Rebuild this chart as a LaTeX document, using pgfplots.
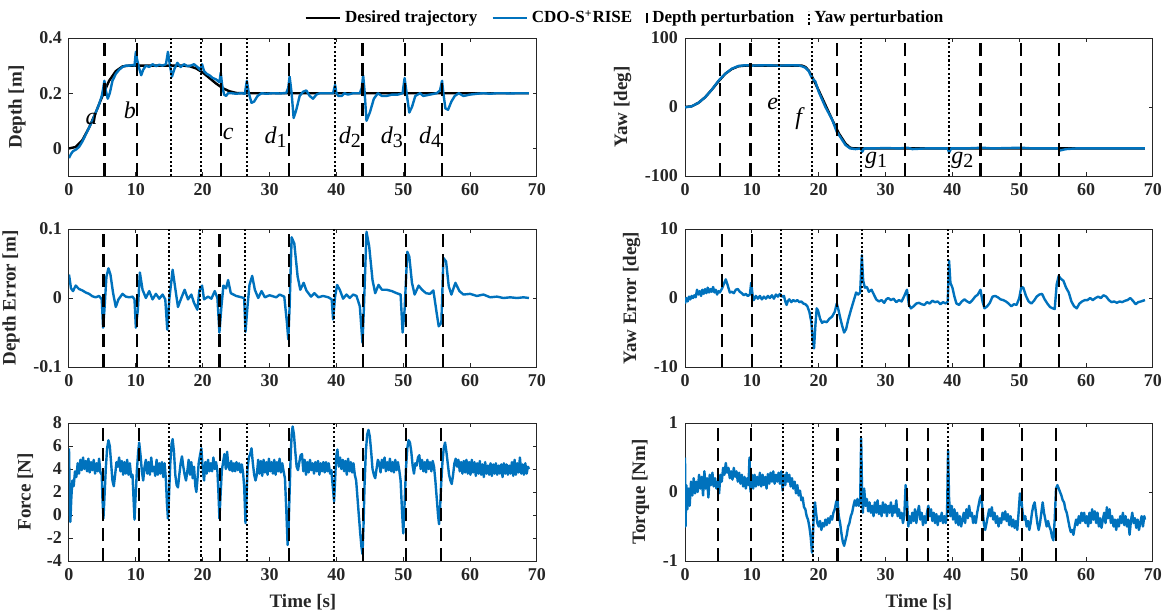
\documentclass[border=0pt]{standalone}
\usepackage{fontspec}
\setmainfont{Liberation Serif}
\usepackage{pgfplots}
\pgfplotsset{compat=1.18}
\definecolor{mblue}{RGB}{0,114,189}
\definecolor{axgray}{RGB}{38,38,38}

\pgfplotsset{
  panel/.style={
    scale only axis, width=234pt, height=69pt,
    xmin=0, xmax=70, xtick={0,10,...,70},
    scaled y ticks=false,
    axis line style={draw=axgray, line width=0.5pt},
    tick style={draw=axgray, line width=0.5pt},
    major tick length=1.8pt,
    tick align=inside, xtick pos=both, ytick pos=both,
    xticklabel pos=bottom, yticklabel pos=left,
    /pgf/number format/assume math mode=true,
    ticklabel style={font=\fontsize{9}{10}\selectfont\bfseries, text=axgray},
    label style={font=\fontsize{9.5}{11}\selectfont\bfseries, text=axgray},
  },
}
\tikzset{
  blu/.style={color=mblue, line width=1.2pt, line join=round},
  des/.style={black, line width=1.2pt},
  dep/.style={black, line width=1.1pt, dash pattern=on 6.5pt off 3.5pt},
  yawp/.style={black, line width=1pt, dash pattern=on 1.1pt off 1.1pt},
  lab/.style={font=\fontsize{12}{12}\selectfont\itshape, text=black},
}
\newcommand{\sub}[1]{\raisebox{-0.4ex}{\fontsize{10}{10}\selectfont\upshape #1}}

\begin{document}
\begin{tikzpicture}
\useasboundingbox (0,0) rectangle (582pt,-308pt);

% ---- depth
\begin{axis}[panel, at={(34.5pt,-19pt)}, anchor=north west,
  ymin=-0.1, ymax=0.4, ytick={0,0.2,0.4}, ylabel={Depth [m]},
  legend style={at={(1.19,1.145)}, anchor=center, draw=none, fill=none,
    font=\fontsize{8.5}{9}\selectfont\bfseries, inner sep=0pt,
    /tikz/every even column/.append style={column sep=5pt}},
  legend columns=4, legend cell align=left]
\addplot[des] coordinates {
(0,0) (1,0.005) (2,0.03) (3,0.075) (4,0.13) (5,0.19) (6,0.245) (7,0.28) (8,0.297) (9,0.3)
(17,0.3) (18,0.298) (19,0.29) (20,0.275) (21,0.255) (22,0.235) (23,0.218) (24,0.207)
(25,0.201) (26,0.2) (68.8,0.2)};
\addplot[blu] coordinates {
(0,-0.035) (0.3,-0.02) (0.6,-0.01) (1,-0.005) (1.5,0.005) (2,0.025) (2.5,0.05) (3,0.075)
(3.5,0.1) (4,0.13) (4.5,0.16) (4.9,0.19) (5.1,0.215) (5.3,0.245) (5.5,0.21) (5.8,0.18)
(6.1,0.2) (6.5,0.245) (7,0.27) (7.5,0.285) (8,0.295) (8.5,0.3) (9,0.3) (9.5,0.302)
(9.8,0.3) (10,0.35) (10.2,0.32) (10.5,0.29) (10.8,0.265) (11.1,0.285) (11.5,0.3)
(12,0.295) (12.5,0.305) (13,0.298) (13.5,0.303) (14,0.3) (14.5,0.305) (14.8,0.35)
(15.1,0.3) (15.4,0.26) (15.8,0.29) (16.2,0.31) (16.7,0.295) (17.2,0.305) (17.7,0.298)
(18.2,0.3) (18.7,0.305) (19.2,0.295) (19.6,0.285) (19.9,0.305) (20.2,0.28) (20.6,0.27)
(21,0.265) (21.5,0.255) (22,0.25) (22.5,0.24) (22.7,0.275) (22.9,0.23) (23.2,0.195)
(23.5,0.19) (23.8,0.2) (24.3,0.2) (25,0.198) (25.8,0.2) (26.3,0.198) (26.6,0.245)
(26.9,0.2) (27.3,0.165) (27.7,0.17) (28.2,0.19) (28.8,0.2) (29.5,0.198) (30.5,0.2)
(31.5,0.199) (32.5,0.201) (32.8,0.22) (33,0.26) (33.3,0.2) (33.6,0.11) (34,0.14)
(34.5,0.19) (35,0.205) (35.5,0.21) (36,0.19) (36.5,0.18) (37,0.195) (37.5,0.2) (38.5,0.2)
(39.5,0.2) (39.8,0.23) (40,0.2) (40.3,0.19) (40.8,0.19) (41.2,0.2) (41.7,0.195) (42.5,0.2)
(43.5,0.2) (43.8,0.22) (44,0.265) (44.2,0.21) (44.5,0.1) (45,0.13) (45.6,0.18) (46.2,0.2)
(46.8,0.19) (47.5,0.19) (48.3,0.195) (49.2,0.195) (49.9,0.2) (50.2,0.255) (50.5,0.2)
(50.9,0.13) (51.3,0.15) (51.8,0.19) (52.5,0.2) (53,0.19) (54,0.195) (55,0.2) (55.5,0.21)
(55.8,0.245) (56,0.2) (56.3,0.145) (56.7,0.14) (57.2,0.17) (57.7,0.19) (58.3,0.2)
(59,0.19) (60,0.195) (61,0.198) (62,0.2) (63,0.198) (64,0.2) (65,0.2) (66,0.199) (67,0.2)
(68.8,0.2)};
\addlegendimage{legend image code/.code={\draw[black, line width=1pt] (0pt,-2.5pt) -- (0pt,2.5pt);}}
\addlegendimage{legend image code/.code={\draw[black, line width=1pt, dash pattern=on 1.1pt off 1.1pt] (0pt,-3.3pt) -- (0pt,3.3pt);}}
\pgfplotsinvokeforeach{5.3,10.2,22.7,32.9,43.9,50.2,55.8}{
  \addplot[dep, forget plot] coordinates {(#1,-0.1) (#1,0.4)};}
\pgfplotsinvokeforeach{15.2,19.8,26.6,39.8}{
  \addplot[yawp, forget plot] coordinates {(#1,-0.1) (#1,0.4)};}
\legend{Desired trajectory, CDO-S\textsuperscript{+}RISE, Depth perturbation, Yaw perturbation}
\node[lab] at (axis cs:3.4,0.107) {a};
\node[lab] at (axis cs:9.1,0.138) {b};
\node[lab] at (axis cs:23.8,0.052) {c};
\node[lab] at (axis cs:30.9,0.04) {d\sub{1}};
\node[lab] at (axis cs:42,0.04) {d\sub{2}};
\node[lab] at (axis cs:48.3,0.04) {d\sub{3}};
\node[lab] at (axis cs:54,0.04) {d\sub{4}};
\end{axis}

% ---- yaw
\begin{axis}[panel, at={(342.5pt,-19pt)}, anchor=north west,
  ymin=-100, ymax=100, ytick={-100,0,100}, ylabel={Yaw [deg]}]
\addplot[des] coordinates {
(0,0) (1,1) (2,6) (3,14) (4,25) (5,37) (6,48) (7,55) (8,59) (9,60) (17.5,60) (18,58)
(18.5,53) (19,44) (20,24) (21,3) (22,-18) (23,-38) (24,-53) (24.7,-59) (25.2,-60) (68.8,-60)};
\addplot[blu] coordinates {
(0,-0.5) (1,1) (2,6) (3,14) (4,25) (5,38) (6,48) (7,55.5) (8,59.5) (9,60.5) (10,60)
(12,60.5) (14,60) (16,60.5) (17,60.3) (17.5,59) (18,57) (18.5,52) (19,42) (19.5,37)
(20,22) (21,0) (22,-18) (22.7,-36) (23,-40) (24,-55) (24.7,-60) (25.5,-61) (26.3,-60)
(26.5,-65) (26.8,-60) (28,-60) (30,-59.5) (32,-60) (33.3,-59) (34,-61) (36,-60) (39.3,-60)
(39.5,-66) (39.8,-60) (42,-60) (44.5,-59) (46,-60) (50.3,-59) (52,-60) (55.8,-60)
(56.1,-63) (57,-61) (58.5,-60) (60,-60) (65,-60) (68.8,-60)};
\pgfplotsinvokeforeach{5.2,9.8,22.7,32.9,44.2,50.2,55.9}{
  \addplot[dep] coordinates {(#1,-100) (#1,100)};}
\pgfplotsinvokeforeach{14,19,26.3,39.5}{
  \addplot[yawp] coordinates {(#1,-100) (#1,100)};}
\node[lab] at (axis cs:13.1,5) {e};
\node[lab] at (axis cs:17,-17) {f};
\node[lab] at (axis cs:28.6,-77) {g\sub{1}};
\node[lab] at (axis cs:41.5,-77) {g\sub{2}};
\end{axis}

% ---- depth error
\begin{axis}[panel, at={(34.5pt,-114.5pt)}, anchor=north west,
  ymin=-0.1, ymax=0.1, ytick={-0.1,0,0.1}, ylabel={Depth Error [m]}]
\addplot[blu] coordinates {
(0,0.034) (0.3,0.014) (0.6,0.01) (1,0.018) (1.5,0.013) (2,0.011) (2.5,0.008) (3,0.006)
(3.5,0.0025) (4,0.001) (4.5,0.003) (4.9,-0.002) (5.1,-0.043) (5.3,-0.017) (5.6,0.031)
(5.9,0.043) (6.2,0.034) (6.6,0.007) (7,-0.013) (7.4,-0.002) (8,0.006) (8.5,0.002) (9,0.001)
(9.5,0.002) (9.8,-0.002) (10,-0.043) (10.3,-0.017) (10.6,0.037) (11,0.012) (11.5,0)
(12,0.01) (12.5,-0.002) (13,0.006) (13.5,-0.001) (14,0.005) (14.4,-0.002) (14.7,-0.046)
(15,-0.002) (15.5,0.041) (16,0.007) (16.3,-0.013) (16.8,0) (17.3,0.012) (17.8,-0.002)
(18.3,0.005) (18.7,-0.007) (19.2,-0.017) (19.5,0.011) (19.9,0.018) (20.2,-0.002)
(20.8,0.002) (21.3,-0.001) (21.8,0.01) (22.2,0) (22.5,-0.05) (22.8,-0.012) (23.1,0.018)
(23.5,0.014) (23.8,0.026) (24.2,0.007) (25,0.003) (25.8,0.001) (26.2,0) (26.4,-0.049)
(26.7,-0.012) (27,0.019) (27.4,0.032) (27.8,0.012) (28.3,0) (28.8,0.01) (29.3,0.001)
(30,0.004) (31,0.001) (31.5,0.005) (32.2,0.002) (32.6,-0.036) (32.8,-0.06) (33,-0.012)
(33.3,0.088) (33.7,0.079) (34.2,0.031) (34.6,0.012) (35.1,0.022) (35.5,0.011) (36.2,0.002)
(36.7,0.007) (37.3,0.001) (38,0.003) (38.8,0.001) (39.3,-0.002) (39.5,-0.031) (39.8,0.002)
(40.1,0.019) (40.5,0.012) (41,-0.001) (41.5,0.005) (42,0) (42.5,0.005) (43,0.003)
(43.5,-0.012) (43.9,-0.065) (44.1,-0.017) (44.5,0.096) (44.9,0.075) (45.4,0.026)
(45.8,0.007) (46.3,0.019) (46.8,0.012) (47.5,0.012) (48.3,0.01) (49,0.007) (49.6,0.005)
(49.9,-0.05) (50.2,-0.017) (50.6,0.067) (50.9,0.06) (51.3,0.022) (51.7,0.005) (52.3,0.018)
(52.8,0.012) (53.4,0.007) (54,0.006) (54.5,0.011) (55,-0.022) (55.3,-0.041) (55.7,-0.036)
(56,0.058) (56.4,0.053) (56.8,0.017) (57.2,0.005) (57.8,0.022) (58.4,0.01) (59,0.005)
(60,0.006) (61,0.003) (62,0.005) (63,0.001) (64,0.002) (65,0) (66,0.001) (67,0) (68,0.001)
(68.8,0)};
\pgfplotsinvokeforeach{5.15,10.2,22.5,32.9,44,50.4,55.9}{
  \addplot[dep] coordinates {(#1,-0.1) (#1,0.1)};}
\pgfplotsinvokeforeach{14.9,19.6,26.4,39.6}{
  \addplot[yawp] coordinates {(#1,-0.1) (#1,0.1)};}
\end{axis}

% ---- yaw error
\begin{axis}[panel, at={(342.5pt,-114.5pt)}, anchor=north west,
  ymin=-10, ymax=10, ytick={-10,0,10}, ylabel={Yaw Error [deg]}]
\addplot[blu] coordinates {
(0,-0.8) (0.2,0) (0.4,-0.5) (0.6,0.2) (0.8,-0.2) (1,0.3) (1.2,0) (1.4,0.4) (1.6,0.1)
(1.8,1.2) (2,0.5) (2.2,1) (2.4,0.3) (2.6,1.2) (2.8,0.6) (3,1.3) (3.2,0.7) (3.4,1.5)
(3.6,0.8) (3.8,1.3) (4,0.9) (4.2,1.6) (4.4,0.8) (4.6,1.2) (4.8,0.5) (5,1) (5.2,0.8)
(5.5,1.3) (5.8,2) (6.1,2.7) (6.4,1.8) (6.7,0.8) (7,0.9) (7.3,0.7) (7.6,1.2) (7.9,1.3)
(8.2,0.9) (8.5,0.7) (8.8,0.4) (9.1,0.6) (9.4,0.3) (9.7,0.5) (9.9,2.2) (10.1,0.5)
(10.3,-0.3) (10.6,0.3) (10.9,-0.1) (11.2,0.3) (11.5,-0.2) (11.8,0.2) (12.1,-0.1) (12.4,0.3)
(12.7,0) (13,0.4) (13.3,-0.1) (13.6,0.5) (13.9,0.2) (14.2,0.6) (14.5,0.2) (14.8,0.3)
(15,-0.5) (15.2,-1) (15.4,-0.4) (15.6,-0.2) (15.9,-0.6) (16.2,-0.3) (16.5,-0.5) (16.8,-0.3)
(17.1,-0.6) (17.4,-0.5) (17.7,-0.8) (18,-0.9) (18.3,-1.2) (18.6,-2) (18.9,-3.5) (19.1,-6)
(19.3,-7.3) (19.5,-4) (19.7,-1.5) (19.9,-1.8) (20.2,-3) (20.5,-3.6) (20.8,-3.4) (21.2,-3.5)
(21.6,-3) (22,-2.7) (22.4,-2) (22.7,-0.8) (22.9,-1.5) (23.2,-2.8) (23.5,-4) (23.8,-5)
(24.1,-4.5) (24.4,-3.2) (24.8,-1.8) (25.2,-0.5) (25.6,0.8) (25.9,0.5) (26.2,0.8) (26.45,6.2)
(26.65,2.5) (26.9,1.5) (27.2,1.6) (27.5,0.9) (27.9,1.2) (28.3,0.4) (28.6,-0.2) (29,-0.5)
(29.4,-0.3) (29.8,-0.7) (30.1,-0.2) (30.4,0) (30.8,-0.3) (31.2,-0.1) (31.6,-0.6) (32,-0.3)
(32.4,-0.5) (32.8,0.3) (33.2,1.2) (33.5,-1) (33.8,-1.5) (34.2,-1.2) (34.6,-0.8) (35,-0.7)
(35.4,-0.9) (35.8,-1) (36.2,-0.6) (36.6,-0.8) (37,-0.4) (37.4,-0.6) (37.8,-0.5) (38.2,-0.9)
(38.6,-0.6) (39,-0.8) (39.3,-0.5) (39.5,5.4) (39.7,2.2) (40,1.5) (40.3,0.2) (40.6,-0.8)
(41,-1) (41.4,-0.5) (41.8,-0.2) (42.2,-0.5) (42.6,-0.7) (43,-0.3) (43.4,0.2) (43.8,0.5)
(44.2,1.2) (44.5,-0.5) (44.8,-1.5) (45.2,-1.2) (45.6,-0.7) (46,0.2) (46.4,0.3) (46.8,0.1)
(47.2,-0.2) (47.6,-0.3) (48,-0.5) (48.4,-0.8) (48.8,-1.2) (49.2,-0.9) (49.6,-1) (50,0)
(50.3,1.6) (50.6,1.5) (51,0.3) (51.4,-0.5) (51.8,-0.8) (52.2,-0.4) (52.6,0.2) (53,0.5)
(53.4,0.6) (53.8,-0.2) (54.2,-0.8) (54.6,-1.3) (55,-1.5) (55.3,-1.6) (55.6,2) (55.9,3.2)
(56.2,2.8) (56.6,2.5) (57,1.5) (57.4,0.8) (57.8,-0.5) (58.2,-1.2) (58.6,-1.5) (59,-0.8)
(59.4,-0.5) (59.8,-0.3) (60.2,-0.3) (60.6,0) (61,-0.3) (61.4,0) (61.8,0.2) (62.2,0)
(62.6,0.4) (63,0.2) (63.4,-0.3) (63.8,-0.6) (64.2,-0.5) (64.6,-0.7) (65,-0.5) (65.4,-0.6)
(65.8,-0.4) (66.2,-0.3) (66.6,0) (67,-0.4) (67.4,-0.9) (67.8,-0.6) (68.2,-0.5) (68.8,-0.3)};
\pgfplotsinvokeforeach{5.55,10,22.7,33.5,44.7,50.3,55.9}{
  \addplot[dep] coordinates {(#1,-10) (#1,10)};}
\pgfplotsinvokeforeach{14.4,19,26.4,39.4}{
  \addplot[yawp] coordinates {(#1,-10) (#1,10)};}
\end{axis}

% ---- force
\begin{axis}[panel, at={(34.5pt,-211.5pt)}, anchor=north west,
  ymin=-4, ymax=8, ytick={-4,-2,...,8}, ylabel={Force [N]}, xlabel={Time [s]}]
\addplot[blu] coordinates {
(0,5.8) (0.1,2) (0.2,-0.6) (0.35,1.5) (0.5,3) (0.7,2.5) (0.9,3.8) (1.1,3.3) (1.3,4.5)
(1.5,3.6) (1.7,4.8) (1.9,3.9) (2.1,5) (2.3,4) (2.5,4.7) (2.7,3.8) (2.9,4.9) (3.1,3.7)
(3.3,4.6) (3.5,3.9) (3.7,4.8) (3.9,3.6) (4.1,4.5) (4.3,3.8) (4.5,4.9) (4.7,3.7) (4.9,3.5)
(5.0,1.5) (5.15,-0.3) (5.3,1.5) (5.5,4) (5.7,5.8) (5.9,6.5) (6.1,6) (6.3,4.5) (6.5,3)
(6.7,2.5) (6.9,3.5) (7.1,4.6) (7.3,4.2) (7.5,5) (7.7,3.8) (7.9,4.7) (8.1,3.5) (8.3,4.6)
(8.5,3.6) (8.7,4.8) (8.9,3.5) (9.1,4.5) (9.3,3.3) (9.5,3.5) (9.65,1.5) (9.8,-0.4)
(9.95,1.5) (10.15,3.8) (10.35,5.5) (10.5,6.3) (10.7,5.2) (10.9,3.8) (11.1,3) (11.3,4.2)
(11.5,4.8) (11.7,3.6) (11.9,4.6) (12.1,3.5) (12.3,5) (12.5,3.8) (12.7,4.2) (12.9,3.4)
(13.1,4.8) (13.3,3.5) (13.5,4.5) (13.7,3.6) (13.9,4.6) (14.1,3.3) (14.3,4.5) (14.5,3)
(14.65,1) (14.8,-0.3) (14.95,1.5) (15.15,4.5) (15.35,6.2) (15.5,6.6) (15.7,5.5) (15.9,3.5)
(16.1,2.6) (16.3,2.4) (16.5,3.5) (16.7,4.5) (16.9,5.1) (17.1,4.2) (17.3,3.5) (17.5,3)
(17.7,3.8) (17.9,4.8) (18.1,3.5) (18.3,4.6) (18.5,3.2) (18.7,4.2) (18.9,2.5) (19.05,2)
(19.2,3) (19.4,4.5) (19.6,5.2) (19.8,5.8) (20,4) (20.2,3) (20.4,4.6) (20.6,3.6) (20.8,4.8)
(21,3.8) (21.2,4.5) (21.4,3.8) (21.6,5) (21.8,4) (22,4.6) (22.2,3.8) (22.35,2) (22.5,-0.3)
(22.65,1.5) (22.85,3.8) (23.05,4.6) (23.25,5.3) (23.45,4) (23.65,5.5) (23.85,4.2)
(24.05,3.9) (24.25,4.7) (24.45,3.8) (24.65,4.5) (24.85,3.8) (25.05,4.6) (25.25,3.9)
(25.45,4.5) (25.65,3.7) (25.85,4.4) (26.05,3.6) (26.2,2.5) (26.4,-0.7) (26.55,1.5) (26.7,4)
(26.9,5) (27.1,5.3) (27.3,5.8) (27.5,4.5) (27.7,3.5) (27.9,3) (28.1,3.5) (28.3,4.8)
(28.5,3.6) (28.7,4.7) (28.9,3.4) (29.1,4.8) (29.3,3.7) (29.5,4.6) (29.7,3.5) (29.9,4.9)
(30.1,3.8) (30.3,4.6) (30.5,3.6) (30.7,4.8) (30.9,3.5) (31.1,4.6) (31.3,3.8) (31.5,4.9)
(31.7,3.7) (31.9,4.5) (32.1,3.8) (32.3,3.2) (32.5,0.5) (32.7,-2.6) (32.85,-1) (33,2)
(33.15,5) (33.3,7) (33.45,7.7) (33.65,7) (33.85,5.5) (34.05,4.2) (34.25,3.9) (34.45,4.6)
(34.65,5.2) (34.85,5.3) (35.05,3.8) (35.25,4.8) (35.45,3.5) (35.65,4.6) (35.85,3.7)
(36.05,4.8) (36.25,3.9) (36.45,4.5) (36.65,3.6) (36.85,4.6) (37.05,3.8) (37.25,4.7)
(37.45,3.5) (37.65,4.5) (37.85,3.8) (38.05,4.6) (38.25,3.7) (38.45,4.6) (38.65,3.8)
(38.85,4.5) (39.05,3.6) (39.25,3.9) (39.45,2.5) (39.65,1.2) (39.8,3) (39.95,5) (40.15,5.7)
(40.35,4.2) (40.55,5) (40.75,4) (40.95,4.8) (41.15,3.8) (41.35,4.7) (41.55,3.5) (41.75,4.9)
(41.95,3.8) (42.15,4.6) (42.35,3.7) (42.55,4.5) (42.75,3.5) (42.95,3) (43.15,1.5) (43.35,0)
(43.55,-1.5) (43.75,-2.8) (43.9,-3.4) (44.05,-1) (44.2,2.5) (44.4,5.5) (44.6,7) (44.8,7.4)
(45,6.8) (45.2,5.5) (45.4,4) (45.6,3.5) (45.8,3.2) (46,4) (46.2,4.8) (46.4,4.5) (46.6,3.7)
(46.8,4.8) (47,4.1) (47.2,5) (47.4,3.8) (47.6,4.6) (47.8,3.9) (48,4.9) (48.2,3.8) (48.4,4.6)
(48.6,3.7) (48.8,4.8) (49,3.9) (49.2,4.6) (49.4,3.9) (49.6,3) (49.8,0.5) (50,-1.6) (50.2,1)
(50.4,4) (50.6,5.8) (50.8,6.5) (51,6.3) (51.2,5.5) (51.4,4.3) (51.6,3.6) (51.8,4.5) (52,4.3)
(52.2,5) (52.4,5.2) (52.6,4) (52.8,4.8) (53,3.8) (53.2,4.6) (53.4,3.7) (53.6,4.8) (53.8,4)
(54,4.6) (54.2,3.8) (54.4,4.7) (54.6,4.2) (54.8,3) (55,1.5) (55.2,0) (55.35,-0.8) (55.5,0.5)
(55.65,2.5) (55.85,4.5) (56.05,5.8) (56.25,6.3) (56.45,5.5) (56.65,4.5) (56.85,3.5)
(57.05,3) (57.25,2.7) (57.45,3.5) (57.65,4.5) (57.85,4.9) (58.05,4.2) (58.25,4.8)
(58.45,3.8) (58.65,4.6) (58.85,3.6) (59.05,4.7) (59.25,3.7) (59.45,4.8) (59.65,3.6)
(59.85,4.6) (60.05,3.5) (60.25,4.8) (60.45,3.7) (60.65,4.6) (60.85,3.4) (61.05,4.5)
(61.25,3.6) (61.45,4.7) (61.65,3.5) (61.85,4.4) (62.05,3.3) (62.25,4.6) (62.45,3.6)
(62.65,4.3) (62.85,3.5) (63.05,4.5) (63.25,3.4) (63.45,4.4) (63.65,3.6) (63.85,4.5)
(64.05,3.5) (64.25,4.3) (64.45,3.6) (64.65,4.4) (64.85,3.3) (65.05,4.5) (65.25,3.6)
(65.45,4.4) (65.65,3.5) (65.85,4.3) (66.05,3.6) (66.25,4.6) (66.45,3.4) (66.65,4.8)
(66.85,3.5) (67.05,4.5) (67.25,3.7) (67.45,5) (67.65,3.6) (67.85,4.4) (68.05,3.5)
(68.25,4.5) (68.45,3.6) (68.65,4.2) (68.8,4)};
\pgfplotsinvokeforeach{5.14,10.46,22.6,32.9,44,50.4,55.7}{
  \addplot[dep] coordinates {(#1,-4) (#1,8)};}
\pgfplotsinvokeforeach{14.9,19.7,26.6,39.7}{
  \addplot[yawp] coordinates {(#1,-4) (#1,8)};}
\end{axis}

% ---- torque
\begin{axis}[panel, at={(342.5pt,-211.5pt)}, anchor=north west,
  ymin=-1, ymax=1, ytick={-1,0,1}, ylabel={Torque [Nm]}, xlabel={Time [s]}]
\addplot[blu] coordinates {
(0,0.5) (0.08,-0.5) (0.2,0.1) (0.35,-0.25) (0.5,0.05) (0.7,-0.2) (0.9,0.15) (1.1,-0.05)
(1.3,0.2) (1.5,-0.02) (1.7,0.15) (1.9,0) (2.1,0.25) (2.3,0.05) (2.5,0.22) (2.7,-0.05)
(2.9,0.3) (3.1,0.05) (3.3,0.2) (3.5,-0.08) (3.7,0.25) (3.9,0.1) (4.1,0.28) (4.3,0.08)
(4.5,0.2) (4.7,0.05) (4.9,0.15) (5.1,-0.02) (5.3,0.25) (5.5,0.15) (5.7,0.35) (5.9,0.25)
(6.1,0.42) (6.3,0.28) (6.5,0.35) (6.7,0.2) (6.9,0.3) (7.1,0.18) (7.3,0.35) (7.5,0.22)
(7.7,0.3) (7.9,0.15) (8.1,0.28) (8.3,0.12) (8.5,0.25) (8.7,0.08) (8.9,0.22) (9.1,0.05)
(9.3,0.2) (9.5,0.1) (9.65,0.5) (9.8,0) (10,0.25) (10.2,0.05) (10.4,0.25) (10.6,0.08)
(10.8,0.22) (11,0.1) (11.2,0.28) (11.4,0.08) (11.6,0.25) (11.8,0.1) (12,0.22) (12.2,0.05)
(12.4,0.26) (12.6,0.12) (12.8,0.28) (13,0.15) (13.2,0.3) (13.4,0.12) (13.6,0.25) (13.8,0.15)
(14,0.28) (14.2,0.12) (14.4,0.3) (14.6,0.02) (14.8,0.25) (15,0.1) (15.2,0.28) (15.4,0.15)
(15.6,0.25) (15.8,0.08) (16,0.2) (16.2,0.05) (16.4,0.15) (16.6,-0.02) (16.8,0.1) (17,-0.05)
(17.2,0.02) (17.4,-0.12) (17.6,-0.08) (17.8,-0.22) (18,-0.25) (18.2,-0.35) (18.4,-0.4)
(18.6,-0.5) (18.8,-0.65) (19,-0.88) (19.15,-0.6) (19.3,-0.25) (19.45,-0.15) (19.6,-0.3)
(19.8,-0.45) (20,-0.5) (20.2,-0.42) (20.4,-0.55) (20.6,-0.45) (20.8,-0.5) (21,-0.4)
(21.2,-0.48) (21.4,-0.38) (21.6,-0.45) (21.8,-0.35) (22,-0.4) (22.2,-0.3) (22.4,-0.25)
(22.6,-0.15) (22.8,-0.1) (23,-0.35) (23.2,-0.45) (23.4,-0.6) (23.6,-0.72) (23.8,-0.78)
(24,-0.7) (24.2,-0.62) (24.4,-0.5) (24.6,-0.45) (24.8,-0.35) (25,-0.3) (25.2,-0.2)
(25.4,-0.12) (25.6,-0.2) (25.8,-0.1) (26,-0.2) (26.2,-0.15) (26.35,0.78) (26.5,-0.1)
(26.6,-0.3) (26.8,0.05) (27,-0.2) (27.2,-0.1) (27.4,-0.28) (27.6,-0.15) (27.8,-0.3) (28,-0.2)
(28.2,-0.35) (28.4,-0.15) (28.6,-0.3) (28.8,-0.12) (29,-0.32) (29.2,-0.2) (29.4,-0.35)
(29.6,-0.15) (29.8,-0.3) (30,-0.18) (30.2,-0.35) (30.4,-0.2) (30.6,-0.3) (30.8,-0.15)
(31,-0.35) (31.2,-0.2) (31.4,-0.3) (31.6,-0.12) (31.8,-0.35) (32,-0.25) (32.2,-0.38)
(32.4,-0.3) (32.6,-0.45) (32.8,-0.35) (33,0.1) (33.2,-0.1) (33.4,-0.5) (33.6,-0.35)
(33.8,-0.45) (34,-0.3) (34.2,-0.42) (34.4,-0.25) (34.6,-0.45) (34.8,-0.3) (35,-0.2)
(35.2,-0.4) (35.4,-0.3) (35.6,-0.48) (35.8,-0.35) (36,-0.45) (36.2,-0.3) (36.4,-0.2)
(36.6,-0.35) (36.8,-0.25) (37,-0.42) (37.2,-0.3) (37.4,-0.45) (37.6,-0.32) (37.8,-0.48)
(38,-0.35) (38.2,-0.42) (38.4,-0.3) (38.6,-0.45) (38.8,-0.35) (39,-0.45) (39.2,-0.3)
(39.35,0.6) (39.5,-0.1) (39.7,-0.35) (39.9,-0.2) (40.1,-0.4) (40.3,-0.25) (40.5,-0.45)
(40.7,-0.3) (40.9,-0.48) (41.1,-0.35) (41.3,-0.5) (41.5,-0.4) (41.7,-0.3) (41.9,-0.45)
(42.1,-0.25) (42.3,-0.38) (42.5,-0.2) (42.7,-0.35) (42.9,-0.3) (43.1,-0.45) (43.3,-0.35)
(43.5,-0.45) (43.7,-0.3) (43.9,-0.2) (44.1,-0.1) (44.3,-0.05) (44.5,-0.25) (44.7,-0.45)
(44.9,-0.55) (45.1,-0.45) (45.3,-0.35) (45.5,-0.25) (45.7,-0.35) (45.9,-0.22) (46.1,-0.4)
(46.3,-0.3) (46.5,-0.45) (46.7,-0.35) (46.9,-0.5) (47.1,-0.38) (47.3,-0.45) (47.5,-0.3)
(47.7,-0.4) (47.9,-0.28) (48.1,-0.42) (48.3,-0.32) (48.5,-0.48) (48.7,-0.35) (48.9,-0.5)
(49.1,-0.4) (49.3,-0.52) (49.5,-0.42) (49.7,-0.55) (49.9,-0.3) (50.1,-0.02) (50.3,-0.1)
(50.5,-0.3) (50.7,-0.4) (50.9,-0.35) (51.1,-0.5) (51.3,-0.42) (51.5,-0.55) (51.7,-0.45)
(51.9,-0.3) (52.1,-0.2) (52.3,-0.15) (52.5,-0.3) (52.7,-0.45) (52.9,-0.55) (53.1,-0.45)
(53.3,-0.3) (53.5,-0.15) (53.7,-0.3) (53.9,-0.4) (54.1,-0.5) (54.3,-0.42) (54.5,-0.5)
(54.7,-0.55) (54.9,-0.65) (55.1,-0.7) (55.3,-0.4) (55.5,0.05) (55.7,0.1) (55.9,0.05)
(56.1,0) (56.3,-0.05) (56.5,-0.12) (56.7,-0.15) (56.9,-0.25) (57.1,-0.3) (57.3,-0.4)
(57.5,-0.5) (57.7,-0.58) (57.9,-0.55) (58.1,-0.62) (58.3,-0.5) (58.5,-0.4) (58.7,-0.48)
(58.9,-0.35) (59.1,-0.45) (59.3,-0.3) (59.5,-0.42) (59.7,-0.3) (59.9,-0.45) (60.1,-0.35)
(60.3,-0.5) (60.5,-0.3) (60.7,-0.45) (60.9,-0.25) (61.1,-0.4) (61.3,-0.28) (61.5,-0.45)
(61.7,-0.3) (61.9,-0.5) (62.1,-0.38) (62.3,-0.52) (62.5,-0.4) (62.7,-0.3) (62.9,-0.45)
(63.1,-0.22) (63.3,-0.38) (63.5,-0.25) (63.7,-0.45) (63.9,-0.35) (64.1,-0.5) (64.3,-0.4)
(64.5,-0.55) (64.7,-0.4) (64.9,-0.5) (65.1,-0.35) (65.3,-0.45) (65.5,-0.3) (65.7,-0.48)
(65.9,-0.35) (66.1,-0.5) (66.3,-0.4) (66.5,-0.62) (66.7,-0.42) (66.9,-0.3) (67.1,-0.45)
(67.3,-0.38) (67.5,-0.52) (67.7,-0.4) (67.9,-0.55) (68.1,-0.45) (68.3,-0.35) (68.5,-0.5)
(68.7,-0.35) (68.8,-0.4)};
\pgfplotsinvokeforeach{4.95,9.84,22.8,33.2,36.4,44.5,50.4,55.5}{
  \addplot[dep] coordinates {(#1,-1) (#1,1)};}
\pgfplotsinvokeforeach{14.6,19.2,26.4,39.4}{
  \addplot[yawp] coordinates {(#1,-1) (#1,1)};}
\end{axis}
\end{tikzpicture}
\end{document}
